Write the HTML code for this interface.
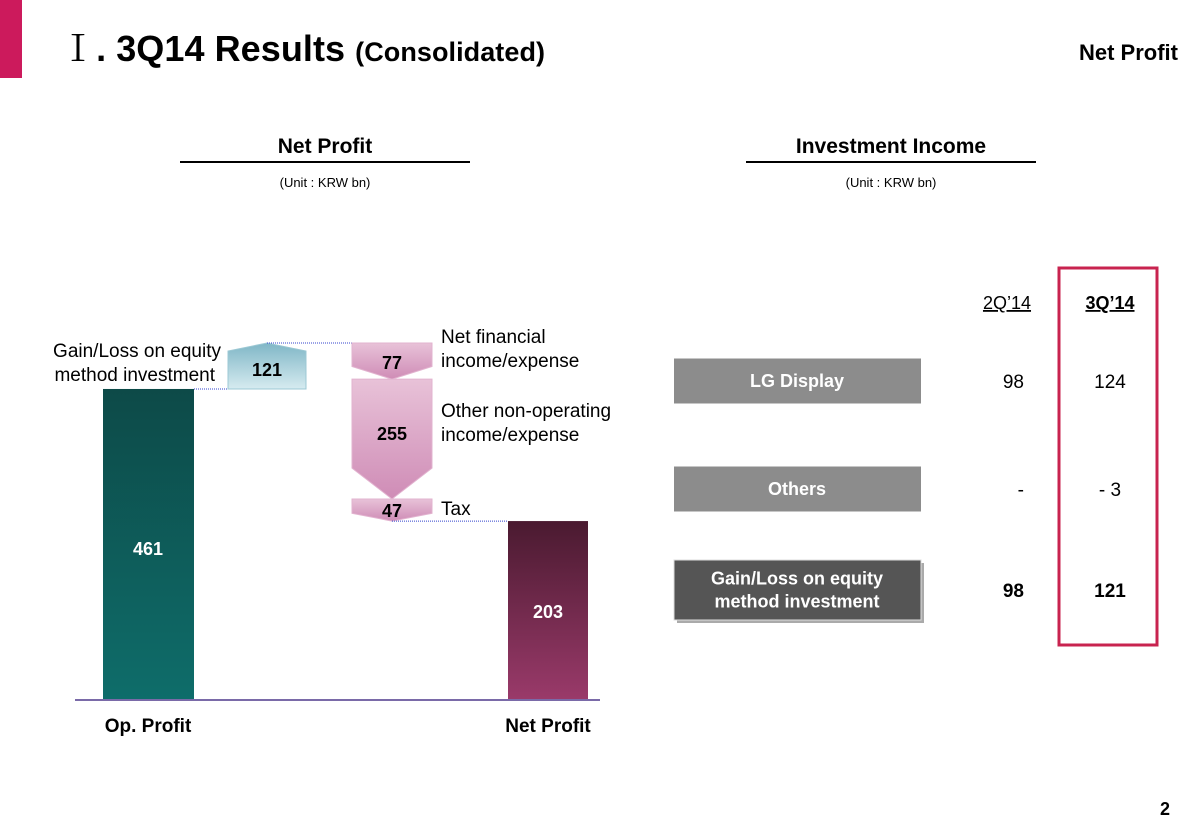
<!DOCTYPE html>
<html><head><meta charset="utf-8"><style>
body{margin:0;width:1200px;height:831px;background:#fff;overflow:hidden;font-family:"Liberation Sans",Arial,sans-serif}
svg text{font-family:"Liberation Sans",Arial,sans-serif}
</style></head><body>
<svg width="1200" height="831" viewBox="0 0 1200 831" xmlns="http://www.w3.org/2000/svg">
<defs>
<linearGradient id="gOp" x1="0" y1="0" x2="0" y2="1"><stop offset="0" stop-color="#0d4a48"/><stop offset="1" stop-color="#0e6d6a"/></linearGradient>
<linearGradient id="gNet" x1="0" y1="0" x2="0" y2="1"><stop offset="0" stop-color="#4a1a30"/><stop offset="1" stop-color="#9a3a6a"/></linearGradient>
<linearGradient id="gBlue" x1="0" y1="0" x2="0" y2="1"><stop offset="0" stop-color="#7fb6c6"/><stop offset="1" stop-color="#d6ebf0"/></linearGradient>
<linearGradient id="gPink" x1="0" y1="0" x2="0" y2="1"><stop offset="0" stop-color="#e8c2d8"/><stop offset="1" stop-color="#cf8cb6"/></linearGradient>
</defs>
<rect x="0" y="0" width="22" height="78" fill="#cc1a5c"/>
<text x="60" y="61" font-size="36" font-weight="bold" textLength="485"><tspan font-weight="normal" style="font-family:'Noto Serif CJK SC','Liberation Serif',serif">Ⅰ</tspan>. 3Q14 Results <tspan font-size="27">(Consolidated)</tspan></text>
<text x="1178" y="60" font-size="22" font-weight="bold" text-anchor="end">Net Profit</text>
<text x="325" y="153" font-size="21" font-weight="bold" text-anchor="middle">Net Profit</text>
<line x1="180" y1="162" x2="470" y2="162" stroke="#000" stroke-width="2"/>
<text x="325" y="187" font-size="13" text-anchor="middle">(Unit : KRW bn)</text>
<text x="891" y="153" font-size="21" font-weight="bold" text-anchor="middle">Investment Income</text>
<line x1="746" y1="162" x2="1036" y2="162" stroke="#000" stroke-width="2"/>
<text x="891" y="187" font-size="13" text-anchor="middle">(Unit : KRW bn)</text>
<g id="wf"></g>
<g id="tbl"></g>
<text x="1170" y="815" font-size="18" font-weight="bold" text-anchor="end">2</text>
</svg>
<script>
const NS='http://www.w3.org/2000/svg';
const opProfit=461, equityGain=121, netFin=77, otherNonOp=255, tax=47, netProfit=203;
const stepLabels=['Net financial|income/expense','Other non-operating|income/expense','Tax'];
const tableRows=['LG Display','Others','Gain/Loss on equity|method investment'];
const q2Values=['98','-','98'];
const q3Values=['124','- 3','121'];
const tableHeaders=['2Q\u201914','3Q\u201914'];

const base=700, A=625, B=0.512, BUP=0.38;
const y=v=>A-B*v;
function el(t,a,p,txt){const e=document.createElementNS(NS,t);for(const k in a)e.setAttribute(k,a[k]);if(txt!==undefined)e.textContent=txt;p.appendChild(e);return e;}
const wf=document.getElementById('wf');
function txt(x,yy,s,opt,p){const t=el('text',Object.assign({x:x,y:yy,'font-size':18},opt||{}),p||wf,s);return t;}

const opTop=y(opProfit);
let r=el('rect',{x:103,y:opTop,width:91,height:base-opTop,fill:'url(#gOp)'},wf);

txt(148,base-145,String(opProfit),{'text-anchor':'middle','font-weight':'bold',fill:'#fff'});
const npTop=y(netProfit);
r=el('rect',{x:508,y:npTop,width:80,height:base-npTop,fill:'url(#gNet)'},wf);

txt(548,npTop+97,String(netProfit),{'text-anchor':'middle','font-weight':'bold',fill:'#fff'});
el('line',{x1:75,y1:base,x2:600,y2:base,stroke:'#7a6aa8','stroke-width':2},wf);
txt(148,732,'Op. Profit',{'text-anchor':'middle','font-weight':'bold','font-size':19});
txt(548,732,'Net Profit',{'text-anchor':'middle','font-weight':'bold','font-size':19});
const eqTop=opTop-BUP*equityGain;
let p=el('path',{d:`M228,${opTop} L228,${eqTop+8} L267,${eqTop} L306,${eqTop+8} L306,${opTop} Z`,fill:'url(#gBlue)',stroke:'#9cc8d4'},wf);

txt(267,opTop-13,String(equityGain),{'text-anchor':'middle','font-weight':'bold'});
txt(221,357,'Gain/Loss on equity',{'text-anchor':'end','font-size':19});
txt(215,381,'method investment',{'text-anchor':'end','font-size':19});
el('line',{x1:194,y1:opTop,x2:228,y2:opTop,stroke:'#3344cc','stroke-dasharray':'1,1'},wf);
el('line',{x1:267,y1:eqTop,x2:352,y2:eqTop,stroke:'#3344cc','stroke-dasharray':'1,1'},wf);
const steps=[netFin,otherNonOp,tax];
const BD=(npTop-eqTop)/(netFin+otherNonOp+tax);
const stepNames=['step-net-financial','step-other-non-operating','step-tax'];
let cur=eqTop;
steps.forEach((v,i)=>{
  const t=cur,b=cur+BD*v,tip=Math.min(14,(b-t)*0.35);
  const d=i===1?`M352,${t} L432,${t} L432,${b-tip*2.2} L392,${b} L352,${b-tip*2.2} Z`:`M352,${t} L432,${t} L432,${b-tip} L392,${b} L352,${b-tip} Z`;
  const s=el('path',{d:d,fill:'url(#gPink)',stroke:'#e2b3cf'},wf);
  
  txt(392,i===1?(t+b)/2+1:t+(b-t)*0.55+6,String(v),{'text-anchor':'middle','font-weight':'bold'});
  const ls=stepLabels[i].split('|');
  const ly=i===0?t:(i===1?t+38:t+16);
  ls.forEach((l,j)=>txt(441,ly+j*24,l,{'font-size':19}));
  cur=b;
});
el('line',{x1:392,y1:npTop,x2:508,y2:npTop,stroke:'#3344cc','stroke-dasharray':'1,1'},wf);

const tb=document.getElementById('tbl');
const rowY=[381,489,590];
const rowH=[45,45,60];
const fills=['#8c8c8c','#8c8c8c','#555555'];
el('rect',{x:1059,y:268,width:98,height:377,fill:'none',stroke:'#c8234f','stroke-width':3},tb);
tableHeaders.forEach((h,i)=>{
  const x=i?1110:1007;
  const t=el('text',{x:x,y:309,'font-size':18,'text-anchor':'middle','font-weight':i?'bold':'normal','text-decoration':'underline'},tb,h);
  
});
tableRows.forEach((lab,i)=>{
  const cy=rowY[i],h=rowH[i];
  if(i===2) el('rect',{x:677,y:cy-h/2+3,width:247,height:h,fill:'#aaa'},tb);
  const rr=el('rect',{x:674,y:cy-h/2,width:247,height:h,fill:fills[i],stroke:i===2?'#ddd':'none'},tb);
  
  const ls=lab.split('|');
  ls.forEach((l,j)=>el('text',{x:797,y:cy+6+(j-(ls.length-1)/2)*23,'font-size':18,'font-weight':'bold',fill:'#fff','text-anchor':'middle'},tb,l));
  const bold=i===2?'bold':'normal';
  const a=el('text',{x:1024,y:cy+7,'font-size':19,'text-anchor':'end','font-weight':bold},tb,q2Values[i]);
  
  const b=el('text',{x:1110,y:cy+7,'font-size':19,'text-anchor':'middle','font-weight':bold},tb,q3Values[i]);
  
});
</script>
</body></html>
